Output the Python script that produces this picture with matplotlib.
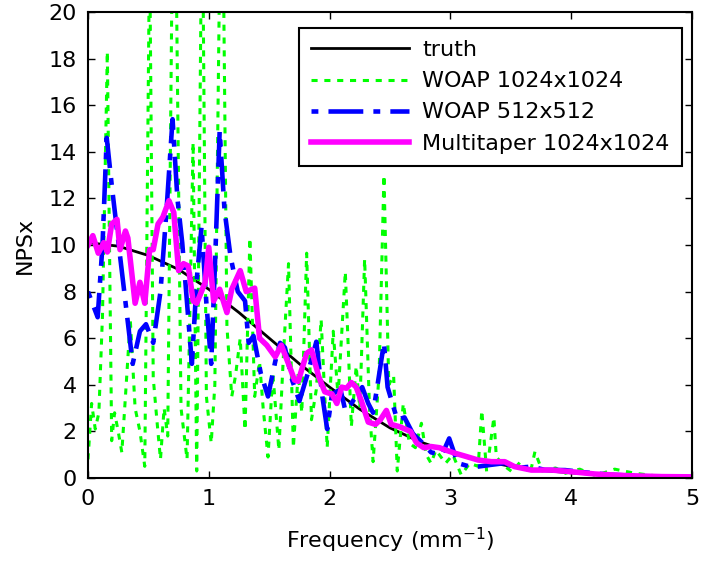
import matplotlib
matplotlib.use("Agg")
import matplotlib.pyplot as plt

plt.rcParams['font.family'] = ['DejaVu Sans']
plt.rcParams['mathtext.fontset'] = 'dejavusans'

# ---- data ----
truth_x = [0.0, 0.25, 0.5, 0.75, 1.0, 1.25, 1.5, 1.75, 2.0, 2.25, 2.5,
           2.75, 3.0, 3.25, 3.5, 3.75, 4.0, 4.25, 4.5, 4.75, 5.0]
truth_y = [10.1, 9.95, 9.55, 8.95, 8.1, 7.1, 6.0, 4.9, 3.9, 2.95, 2.15,
           1.55, 1.1, 0.75, 0.5, 0.33, 0.22, 0.14, 0.09, 0.05, 0.03]

woap1024_x = [0.00, 0.03, 0.06, 0.09, 0.12, 0.16, 0.196, 0.22, 0.25, 0.28,
              0.31, 0.35, 0.39, 0.43, 0.47, 0.51, 0.54, 0.57, 0.60, 0.63,
              0.66, 0.70, 0.73, 0.77, 0.82, 0.87, 0.90, 0.945, 0.98, 1.02,
              1.05, 1.09, 1.115, 1.15, 1.19, 1.22, 1.26, 1.30, 1.34, 1.38,
              1.42, 1.45, 1.49, 1.53, 1.58, 1.62, 1.66, 1.70, 1.74, 1.77,
              1.81, 1.85, 1.89, 1.93, 1.98, 2.03, 2.07, 2.13, 2.18, 2.22,
              2.25, 2.29, 2.33, 2.36, 2.41, 2.45, 2.49, 2.53, 2.56, 2.61,
              2.66, 2.71, 2.76, 2.80, 2.84, 2.88, 2.96, 3.02, 3.09, 3.16,
              3.23, 3.26, 3.30, 3.36, 3.38, 3.45, 3.51, 3.58, 3.66, 3.70,
              3.76, 3.87, 3.95, 4.07, 4.20, 4.36, 4.53, 4.77, 5.00]
woap1024_y = [0.8, 3.2, 2.1, 2.8, 7.0, 18.3, 1.6, 2.8, 2.0, 1.1,
              3.5, 6.8, 3.0, 2.0, 0.5, 23.0, 4.3, 2.5, 0.8, 3.0,
              1.8, 24.0, 22.0, 3.0, 0.8, 14.4, 0.3, 26.0, 3.5, 1.5,
              4.0, 22.0, 25.0, 6.5, 3.5, 4.35, 6.0, 2.06, 10.3, 3.5,
              5.0, 3.0, 0.9, 4.5, 1.2, 5.5, 9.2, 1.3, 4.5, 2.8,
              9.65, 2.5, 3.8, 6.8, 1.3, 6.3, 3.5, 8.85, 2.2, 4.8,
              3.0, 9.4, 3.0, 0.7, 4.5, 13.0, 4.0, 4.4, 0.3, 3.2,
              1.5, 1.3, 2.35, 1.0, 0.63, 1.2, 0.63, 1.0, 0.13, 0.63,
              0.5, 2.9, 0.27, 2.6, 0.9, 0.5, 0.27, 0.7, 0.2, 1.13,
              0.3, 0.43, 0.2, 0.38, 0.1, 0.38, 0.2, 0.05, 0.02]

woap512_x = [0.00, 0.08, 0.12, 0.155, 0.20, 0.25, 0.30, 0.37, 0.43, 0.48,
             0.54, 0.60, 0.65, 0.70, 0.74, 0.78, 0.86, 0.90, 0.94, 0.98,
             1.02, 1.05, 1.09, 1.13, 1.18, 1.24, 1.30, 1.33, 1.37, 1.43,
             1.49, 1.55, 1.59, 1.63, 1.69, 1.75, 1.82, 1.89, 1.94, 1.98,
             2.02, 2.09, 2.13, 2.18, 2.27, 2.32, 2.36, 2.40, 2.45, 2.48,
             2.56, 2.62, 2.69, 2.76, 2.84, 2.93, 2.99, 3.06, 3.16, 3.23,
             3.33, 3.45, 3.55, 3.67, 3.78, 3.95, 4.10, 4.30, 4.50, 4.75, 5.00]
woap512_y = [8.0, 6.9, 10.0, 14.6, 12.4, 10.2, 8.0, 4.9, 6.3, 6.6,
             5.8, 8.0, 11.5, 15.4, 12.0, 10.1, 4.9, 8.5, 10.8, 7.5,
             4.9, 9.0, 14.9, 11.5, 9.5, 8.0, 7.6, 5.8, 6.1, 4.5,
             3.5, 5.0, 5.8, 5.6, 4.2, 3.3, 4.5, 5.85, 3.5, 2.1,
             3.6, 3.8, 2.9, 3.2, 3.9, 3.2, 2.8, 4.1, 5.8, 3.9,
             2.5, 2.6, 1.9, 1.55, 1.1, 1.0, 1.7, 0.64, 0.49, 0.49,
             0.56, 0.64, 0.43, 0.49, 0.35, 0.34, 0.25, 0.15, 0.1, 0.05, 0.03]

multitaper_x = [0.00, 0.04, 0.085, 0.13, 0.16, 0.196, 0.24, 0.265, 0.31, 0.33,
                0.39, 0.43, 0.47, 0.51, 0.54, 0.58, 0.62, 0.67, 0.71, 0.75,
                0.79, 0.83, 0.87, 0.90, 0.97, 1.00, 1.04, 1.09, 1.15, 1.19,
                1.26, 1.31, 1.38, 1.42, 1.48, 1.55, 1.60, 1.66, 1.71, 1.74,
                1.81, 1.85, 1.91, 1.96, 2.02, 2.06, 2.10, 2.14, 2.18, 2.22,
                2.26, 2.32, 2.38, 2.42, 2.47, 2.51, 2.58, 2.67, 2.72, 2.78,
                2.84, 2.91, 2.96, 3.04, 3.12, 3.23, 3.34, 3.45, 3.53, 3.67,
                3.84, 4.00, 4.20, 4.47, 4.75, 5.00]
multitaper_y = [10.0, 10.4, 9.65, 10.1, 9.7, 10.9, 11.1, 9.8, 10.6, 10.3,
                7.5, 8.4, 7.5, 9.8, 9.8, 10.9, 11.2, 11.9, 11.4, 8.9,
                9.2, 9.1, 7.6, 7.5, 8.4, 9.9, 7.6, 8.1, 7.1, 8.1,
                8.9, 8.0, 8.15, 6.0, 5.7, 5.2, 5.7, 4.9, 4.2, 4.15,
                5.35, 5.5, 4.35, 3.7, 3.6, 3.2, 3.9, 3.85, 4.1, 3.9,
                3.35, 2.4, 2.3, 2.5, 2.9, 2.3, 2.2, 2.0, 1.5, 1.3,
                1.35, 1.3, 1.2, 1.06, 0.94, 0.77, 0.7, 0.7, 0.49, 0.34,
                0.34, 0.27, 0.17, 0.1, 0.06, 0.05]

labels = ['truth', 'WOAP 1024x1024', 'WOAP 512x512', 'Multitaper 1024x1024']
x_ticks = [0, 1, 2, 3, 4, 5]
y_ticks = [0, 2, 4, 6, 8, 10, 12, 14, 16, 18, 20]

# ---- figure ----
fig = plt.figure(figsize=(7.01, 5.62), dpi=100)
ax = fig.add_axes([88 / 701, 1 - 478 / 562, (692 - 88) / 701, (478 - 12) / 562])

ax.plot(truth_x, truth_y, color='black', lw=2.0, label=labels[0])
ax.plot(woap1024_x, woap1024_y, color='#00ff00', lw=2.2,
        linestyle=(0, (2.0, 2.2)), dash_capstyle='butt', label=labels[1])
ax.plot(woap512_x, woap512_y, color='#0000ff', lw=3.3,
        linestyle=(9.8, (7.6, 2.2, 1.5, 2.2)), dash_capstyle='butt', label=labels[2])
ax.plot(multitaper_x, multitaper_y, color='#ff00ff', lw=4.0, label=labels[3])

ax.set_xlim(0, 5)
ax.set_ylim(0, 20)
ax.set_xticks(x_ticks)
ax.set_yticks(y_ticks)
ax.tick_params(direction='in', top=True, right=True, length=5, width=1,
               labelsize=16, pad=8)
for s in ax.spines.values():
    s.set_linewidth(1.5)

ax.set_xlabel('Frequency (mm$^{-1}$)', fontsize=16, labelpad=12)
ax.set_ylabel('NPSx', fontsize=16, labelpad=10)

leg = ax.legend(loc='upper right', bbox_to_anchor=((682 - 88) / 604, (478 - 28) / 466),
                borderaxespad=0, fontsize=16, fancybox=False, framealpha=1,
                edgecolor='black', handlelength=4.4, handletextpad=0.6,
                borderpad=0.55, labelspacing=0.5)
leg.get_frame().set_linewidth(1.5)

fig.savefig('out.png', dpi=100)
